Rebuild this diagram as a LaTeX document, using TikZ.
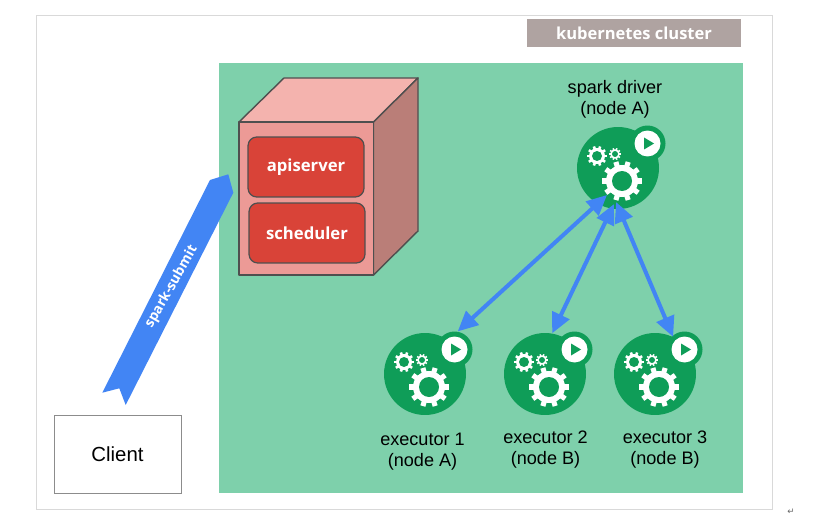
\documentclass[tikz,border=0pt]{standalone}
\usepackage{fontspec}
\setmainfont{Liberation Sans}
\newfontfamily\boxfont{Open Sans}[BoldFont={Open Sans Bold}]
\newfontfamily\markfont{DejaVu Sans}
\usepackage{xcolor}
\usepackage{tikz}
\usetikzlibrary{arrows.meta,positioning,calc}
\definecolor{clustergreen}{HTML}{7ED0AB}
\definecolor{podgreen}{HTML}{0F9D58}
\definecolor{linkblue}{HTML}{4285F4}
\definecolor{framegray}{HTML}{D9D9D9}
\definecolor{tagtaupe}{HTML}{AFA3A1}
\definecolor{cubeedge}{HTML}{4F4F4F}
\definecolor{cubetop}{HTML}{F4B3AE}
\definecolor{cubeside}{HTML}{BA7E78}
\definecolor{cubefront}{HTML}{EC9A96}
\definecolor{componentred}{HTML}{D94338}
\newcommand\gearwheel[4]{
                    \node[gearbody, minimum size=0.032*#4 cm] (#1) at (#2,#3) {};
                    \foreach \a in {0,36,...,324}{
                        \draw[white, line width=0.145*#4 pt] ($(#1)+(\a:0.7*#4)$) -- ($(#1)+(\a:#4)$);
                    }
                    \node[gearhole, minimum size=0.02*#4 cm] at (#1) {};
}
\newcommand\podicon[3]{
                    \node[podbody] (#1) at (#2,#3) {};
                    \node[podring] (#1ring) at (#2+29.5,#3-24.5) {};
                    \node[podplay] (#1play) at (#1ring) {};
                    \fill[podgreen] ($(#1ring)+(-3.5,-6)$) -- ($(#1ring)+(6.5,0)$) -- ($(#1ring)+(-3.5,6)$) -- cycle;
                    \gearwheel{#1gear}{#2+4}{#3+13}{20}
                    \gearwheel{#1cog}{#2-21}{#3-12}{10}
                    \gearwheel{#1tiny}{#2-3}{#3-14}{6}
}
\tikzset{
    gearbody/.style={circle, fill=white, inner sep=0pt},
    gearhole/.style={circle, fill=podgreen, inner sep=0pt},
    podbody/.style={circle, fill=podgreen, inner sep=0pt, minimum size=1.64cm},
    podring/.style={circle, fill=podgreen, inner sep=0pt, minimum size=0.72cm},
    podplay/.style={circle, fill=white, inner sep=0pt, minimum size=0.52cm},
    podtext/.style={align=center, font=\fontsize{10.3pt}{12pt}\selectfont, inner sep=0pt},
    component/.style={draw=cubeedge, line width=0.7pt, fill=componentred, rounded corners=5pt, inner sep=0pt,
        minimum width=2.32cm, minimum height=1.2cm, text=white, font=\boxfont\bfseries\fontsize{9.5pt}{11pt}\selectfont},
    cubeface/.style={draw=cubeedge, line width=0.8pt, line join=round},
    link/.style={{Triangle[length=11.5pt,width=10.5pt]}-{Triangle[length=11.5pt,width=10.5pt]}, draw=linkblue, line width=2.3pt},
}
\begin{document}
\begin{tikzpicture}[x=0.02cm,y=-0.02cm]
                    \useasboundingbox (0,0) rectangle (820,530);
                    \node[draw=framegray, line width=0.6pt, fill=white, inner sep=0pt, minimum width=14.74cm, minimum height=9.9cm] (frame) at (404.5,262.5) {};
                    \node[fill=clustergreen, inner sep=0pt, minimum width=10.48cm, minimum height=8.6cm] (cluster) at (481,278) {};
                    \node[fill=tagtaupe, inner sep=0pt, minimum width=4.28cm, minimum height=0.56cm, text=white, font=\boxfont\bfseries\fontsize{9.4pt}{11pt}\selectfont] (tag) at (634,33) {kubernetes cluster};
                    \node[draw=black!45, line width=0.4pt, fill=white, inner sep=0pt, minimum width=2.54cm, minimum height=1.56cm, font=\fontsize{11.6pt}{14pt}\selectfont] (client) at (117.5,454) {Client};
                    \filldraw[cubeface, fill=cubetop] (239,122) -- (284,78) -- (418,78) -- (373.5,122) -- cycle;
                    \filldraw[cubeface, fill=cubeside] (373.5,122) -- (418,78) -- (418,231) -- (373.5,275) -- cycle;
                    \filldraw[cubeface, fill=cubefront] (239,122) rectangle (373.5,275);
                    \node[component] (apiserver) at (306,167) {apiserver};
                    \node[component] (scheduler) at (307,233) {scheduler};
                    \coordinate (bannerhead) at (233.3,192.7);
                    \coordinate (bannertail) at (125.7,405);
                    \fill[linkblue] (210,180) -- (228.3,174.3) -- (bannerhead) -- (bannertail) -- (119.3,388.3) -- (102.3,392.7) -- cycle;
                    \node[rotate=60.5, text=white, inner sep=0pt, font=\boxfont\bfseries\fontsize{7.9pt}{10pt}\selectfont] (submit) at (171.5,287) {spark-submit};
                    \podicon{driver}{618}{168}
                    \podicon{execone}{425}{374}
                    \podicon{exectwo}{545}{374}
                    \podicon{execthree}{655}{374}
                    \node[podtext] (drivertext) at (615,99) {spark driver\\(node A)};
                    \node[podtext] (execonetext) at (422.5,452) {executor 1\\(node A)};
                    \node[podtext] (exectwotext) at (545.5,449.5) {executor 2\\(node B)};
                    \node[podtext] (execthreetext) at (665,449.5) {executor 3\\(node B)};
                    \coordinate (hubone) at ($(drivergear)+(-15,14)$);
                    \coordinate (hubtwo) at ($(drivergear)+(-8,23)$);
                    \coordinate (hubthree) at ($(drivergear)+(-6,21)$);
                    \draw[link] (execonering.80) -- (hubone);
                    \draw[link] (exectwo.80) -- (hubtwo);
                    \draw[link] (execthree.64) -- (hubthree);
                    \node[text=black!60, inner sep=0pt, font=\markfont\fontsize{5pt}{6pt}\selectfont] (returnmark) at (791,512) {↵};
\end{tikzpicture}
\end{document}
